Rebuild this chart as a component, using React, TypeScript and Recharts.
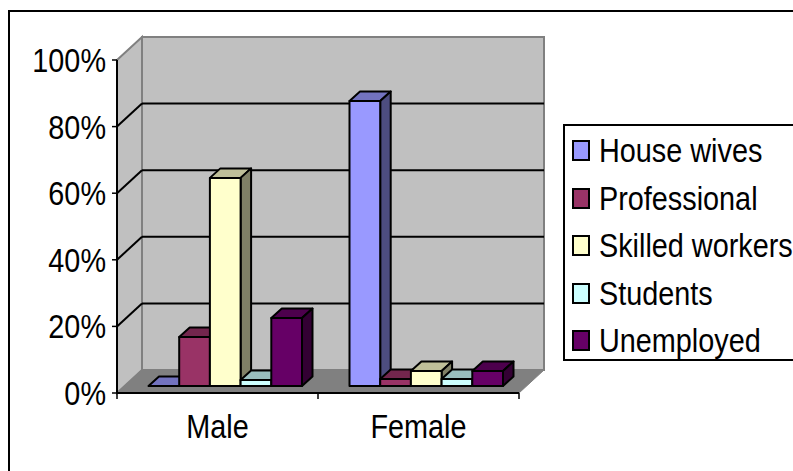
import { Bar, BarChart, CartesianGrid, Legend, XAxis, YAxis, usePlotArea } from "recharts";

const groups = ["Male", "Female"];
const seriesNames = ["House wives", "Professional", "Skilled workers", "Students", "Unemployed"];
const houseWives = [0, 85.6];
const professional = [14.7, 2.1];
const skilledWorkers = [62.5, 4.5];
const students = [1.8, 2.1];
const unemployed = [20.4, 4.5];
const seriesValues = [houseWives, professional, skilledWorkers, students, unemployed];
const seriesColors = ["#9999FF", "#993366", "#FFFFCC", "#CCFFFF", "#660066"];
const yTicks = [0, 20, 40, 60, 80, 100];

const chartData = groups.map((name, g) => {
  const row: Record<string, string | number> = { name };
  seriesNames.forEach((s, i) => {
    row[s] = seriesValues[i][g];
  });
  return row;
});

const FONT = '"Liberation Sans", Arial, sans-serif';
const FONT_SIZE = 33.5;
// the type is set tall and condensed
const TEXT_SQUEEZE = 0.86;

// fake 3D offsets
const WALL_DX = 25;
const WALL_DY = 23;
const BOX_DX = 10.5;
const BOX_DY = 9.5;
const BAR_SHIFT_X = 7.5;
const BAR_SHIFT_Y = 7;

function shade(hex: string, k: number) {
  const n = parseInt(hex.slice(1), 16);
  const r = Math.round(((n >> 16) & 255) * k);
  const g = Math.round(((n >> 8) & 255) * k);
  const b = Math.round((n & 255) * k);
  return `rgb(${r},${g},${b})`;
}

function pts(list: number[][]) {
  return list.map((p) => p.join(",")).join(" ");
}

function SqueezedText({ x, y, anchor, children }: any) {
  return (
    <text
      transform={`translate(${x} ${y}) scale(${TEXT_SQUEEZE} 1)`}
      textAnchor={anchor}
      fontSize={FONT_SIZE}
      fontFamily={FONT}
      fill="#000"
    >
      {children}
    </text>
  );
}

// gridline across the back wall plus its diagonal on the side wall
function GridLine(props: any) {
  const { x1, x2, y1, y2 } = props;
  const isFloor = y1 > 380;
  const isTop = y1 < 70;
  if (isFloor || isTop) return <g />;
  return (
    <g>
      <line x1={x1} y1={y1} x2={x1 + WALL_DX} y2={y1 - WALL_DY} stroke="#000" strokeWidth={2} />
      <line x1={x1 + WALL_DX} y1={y2 - WALL_DY} x2={x2 + WALL_DX} y2={y2 - WALL_DY} stroke="#000" strokeWidth={2} />
    </g>
  );
}

// side wall, back wall and floor behind the bars
function Walls() {
  const area = usePlotArea();
  if (!area) return null;
  const { x, y, width, height } = area;
  const right = x + width;
  const bottom = y + height;
  const dx = WALL_DX;
  const dy = WALL_DY;
  return (
    <g>
      <polygon
        points={pts([[x, y], [x + dx, y - dy], [x + dx, bottom - dy], [x, bottom]])}
        fill="#C0C0C0"
        stroke="#808080"
        strokeWidth={2}
      />
      <rect x={x + dx} y={y - dy} width={width} height={height} fill="#C0C0C0" stroke="#808080" strokeWidth={2} />
      <polygon
        points={pts([[x, bottom], [x + dx, bottom - dy], [right + dx, bottom - dy], [right, bottom]])}
        fill="#808080"
        stroke="#808080"
      />
    </g>
  );
}

function Box(props: any) {
  const { x, y, width, height, fill } = props;
  const left = x + BAR_SHIFT_X;
  const right = left + width;
  const top = y - BAR_SHIFT_Y;
  const bottom = top + height;
  const common = { stroke: "#000", strokeWidth: 2, strokeLinejoin: "round" as const };
  return (
    <g>
      <polygon
        points={pts([[left, top], [left + BOX_DX, top - BOX_DY], [right + BOX_DX, top - BOX_DY], [right, top]])}
        fill={shade(fill, 0.75)}
        {...common}
      />
      <polygon
        points={pts([[right, top], [right + BOX_DX, top - BOX_DY], [right + BOX_DX, bottom - BOX_DY], [right, bottom]])}
        fill={shade(fill, 0.5)}
        {...common}
      />
      <rect x={left} y={top} width={width} height={height} fill={fill} {...common} />
    </g>
  );
}

// category label with tick marks on the band edges rather than the centre
function GroupTick(props: any) {
  const { x, y, payload, index } = props;
  const band = 201;
  return (
    <g>
      {index === 0 && <line x1={x - band / 2} y1={y - 8} x2={x - band / 2} y2={y - 2} stroke="#000" strokeWidth={1.5} />}
      <line x1={x + band / 2} y1={y - 8} x2={x + band / 2} y2={y - 2} stroke="#000" strokeWidth={1.5} />
      <SqueezedText x={x} y={y + 37} anchor="middle">
        {payload.value}
      </SqueezedText>
    </g>
  );
}

function PercentTick(props: any) {
  const { x, y, payload } = props;
  return (
    <SqueezedText x={x} y={y + 12} anchor="end">
      {`${payload.value}%`}
    </SqueezedText>
  );
}

function LegendBox({ payload }: any) {
  return (
    <div style={{ fontFamily: FONT, fontSize: FONT_SIZE, color: "#000", paddingTop: 1 }}>
      {(payload || []).map((item: any) => (
        <div key={item.value} style={{ display: "flex", alignItems: "center", height: 47.5, paddingLeft: 7 }}>
          <span
            style={{
              width: 14,
              height: 17,
              background: item.color,
              border: "2px solid #000",
              marginRight: 9,
              flex: "none",
            }}
          />
          <span
            style={{
              whiteSpace: "nowrap",
              lineHeight: 1,
              transform: `scaleX(${TEXT_SQUEEZE})`,
              transformOrigin: "left center",
            }}
          >
            {item.value}
          </span>
        </div>
      ))}
    </div>
  );
}

export default function App() {
  return (
    <div style={{ position: "absolute", left: 0, top: 0, width: 793, height: 471, overflow: "hidden", background: "#fff" }}>
      <div
        style={{
          position: "absolute",
          left: 8,
          top: 10,
          width: 800,
          height: 480,
          borderLeft: "2px solid #000",
          borderTop: "2px solid #000",
        }}
      />
      <BarChart
        width={793}
        height={471}
        data={chartData}
        margin={{ top: 60, right: 274, bottom: 0, left: 0 }}
        barSize={30.7}
        barGap={0}
        style={{ position: "absolute", left: 0, top: 0 }}
      >
        <Walls />
        <CartesianGrid vertical={false} horizontal={(p: any) => <GridLine {...p} />} zIndex={0} />
        <XAxis
          dataKey="name"
          height={78}
          axisLine={{ stroke: "#000", strokeWidth: 2 }}
          tickLine={false}
          tick={(p: any) => <GroupTick {...p} />}
          interval={0}
        />
        <YAxis
          domain={[0, 100]}
          ticks={yTicks}
          width={117}
          axisLine={{ stroke: "#000", strokeWidth: 2 }}
          tickLine={{ stroke: "#000", strokeWidth: 1.5 }}
          tickSize={5}
          tickMargin={6}
          tick={(p: any) => <PercentTick {...p} />}
        />
        {seriesNames.map((s, i) => (
          <Bar key={s} dataKey={s} fill={seriesColors[i]} shape={(p: any) => <Box {...p} />} isAnimationActive={false} />
        ))}
        <Legend
          layout="horizontal"
          verticalAlign="middle"
          content={(p: any) => <LegendBox {...p} />}
          wrapperStyle={{
            position: "absolute",
            left: 563,
            top: 124,
            width: 240,
            height: 237,
            border: "2px solid #000",
            background: "#fff",
            boxSizing: "border-box",
          }}
        />
      </BarChart>
    </div>
  );
}
